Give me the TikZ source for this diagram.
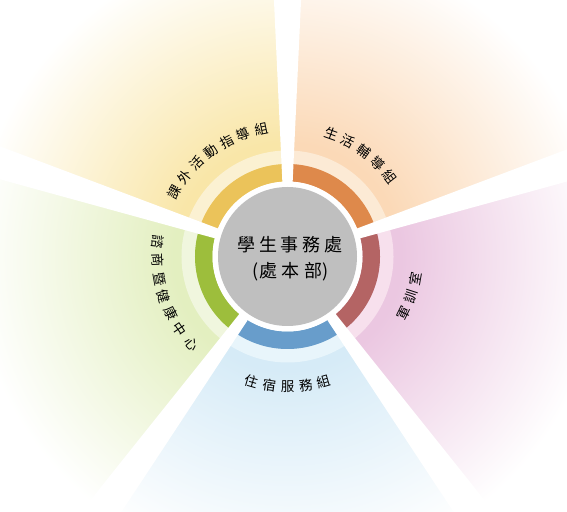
\documentclass[tikz,border=0pt]{standalone}
\usepackage{fontspec}
\newfontfamily\cjk{Noto Sans CJK TC}
\definecolor{centergray}{RGB}{191,191,191}
\definecolor{ringY}{RGB}{235,195,90}
\definecolor{ringO}{RGB}{222,137,75}
\definecolor{ringR}{RGB}{180,100,100}
\definecolor{ringB}{RGB}{104,157,203}
\definecolor{ringG}{RGB}{157,190,60}
\definecolor{haloY}{RGB}{251,241,210}
\definecolor{haloO}{RGB}{252,234,213}
\definecolor{haloR}{RGB}{247,224,237}
\definecolor{haloB}{RGB}{232,245,251}
\definecolor{haloG}{RGB}{240,246,222}
\definecolor{fanY}{RGB}{249,230,168}
\definecolor{fanO}{RGB}{251,217,183}
\definecolor{fanR}{RGB}{235,199,225}
\definecolor{fanB}{RGB}{214,235,247}
\definecolor{fanG}{RGB}{227,239,192}
\pgfdeclareradialshading{shY}{\pgfpoint{0bp}{0bp}}{color(0bp)=(fanY); color(9bp)=(fanY); color(25bp)=(white); color(50bp)=(white)}
\pgfdeclareradialshading{shO}{\pgfpoint{0bp}{0bp}}{color(0bp)=(fanO); color(9bp)=(fanO); color(25bp)=(white); color(50bp)=(white)}
\pgfdeclareradialshading{shR}{\pgfpoint{0bp}{0bp}}{color(0bp)=(fanR); color(9bp)=(fanR); color(25bp)=(white); color(50bp)=(white)}
\pgfdeclareradialshading{shB}{\pgfpoint{0bp}{0bp}}{color(0bp)=(fanB); color(9bp)=(fanB); color(25bp)=(white); color(50bp)=(white)}
\pgfdeclareradialshading{shG}{\pgfpoint{0bp}{0bp}}{color(0bp)=(fanG); color(9bp)=(fanG); color(25bp)=(white); color(50bp)=(white)}
% #1 start angle, #2 shading, #3 halo colour, #4 ring colour
\newcommand\fansector[4]{%
  \begin{scope}
    \clip (0,0) -- (#1:800) -- (#1+36:800) -- (#1+72:800) -- cycle;
    \shade[shading=#2] (0,0) circle (315);
  \end{scope}
  \fill[#3] (#1:106) arc[start angle=#1, delta angle=72, radius=106]
    -- (#1+72:92.5) arc[start angle=#1+72, delta angle=-72, radius=92.5] -- cycle;
  \fill[#4] (#1:92.5) arc[start angle=#1, delta angle=72, radius=92.5]
    -- (#1+72:75) arc[start angle=#1+72, delta angle=-72, radius=75] -- cycle;
}
\newcommand\spokegap[1]{%
  \begin{scope}[rotate=#1]
    \fill[white] (0,1.7) -- (800,38.7) -- (800,-38.7) -- (0,-1.7) -- cycle;
  \end{scope}
}
\begin{document}
\begin{tikzpicture}[x=1pt,y=1pt,
  lab/.style={font=\cjk\fontsize{13.5}{13.5}\selectfont, inner sep=0pt, text=black},
  ttl/.style={font=\cjk\fontsize{18}{18}\selectfont, inner sep=0pt, text=black}]
\useasboundingbox (0,0) rectangle (567,511);
\clip (0,0) rectangle (567,511);
\fill[white] (0,0) rectangle (567,511);
\begin{scope}[shift={(287.5,254.5)}]
  \fansector{90}{shY}{haloY}{ringY}
  \fansector{162}{shG}{haloG}{ringG}
  \fansector{234}{shB}{haloB}{ringB}
  \fansector{306}{shR}{haloR}{ringR}
  \fansector{18}{shO}{haloO}{ringO}
  \spokegap{90}
  \spokegap{162}
  \spokegap{234}
  \spokegap{306}
  \spokegap{18}
  \fill[white] (0,0) circle (75);
  \fill[centergray] (0,0) circle (69.5);
  \node[ttl] (t1) at (2.5,11.5) {學\kern4pt 生\kern4pt 事\kern4pt 務\kern4pt 處};
  \node[ttl] (t2) at (3.5,-15.5) {(\kern1pt 處\kern4pt 本\kern4pt 部\kern1pt )};
  % clockwise labels (tops outward)
  \foreach \ch [count=\i] in {課,外,活,動,指,導,組} {
    \pgfmathsetmacro\ang{126+3*8.1-(\i-1)*8.1}
    \node[lab, rotate=\ang-90] (ly\i) at (\ang:130) {\ch};
  }
  \foreach \ch [count=\i] in {生,活,輔,導,組} {
    \pgfmathsetmacro\ang{54+2*8.1-(\i-1)*8.1}
    \node[lab, rotate=\ang-90] (lo\i) at (\ang:130) {\ch};
  }
  % counter-clockwise labels (tops inward)
  \foreach \ch [count=\i] in {軍,訓,室} {
    \pgfmathsetmacro\ang{-18-1*8.1+(\i-1)*8.1}
    \node[lab, rotate=\ang+90] (lr\i) at (\ang:130) {\ch};
  }
  \foreach \ch [count=\i] in {住,宿,服,務,組} {
    \pgfmathsetmacro\ang{270-2*8.1+(\i-1)*8.1}
    \node[lab, rotate=\ang+90] (lb\i) at (\ang:130) {\ch};
  }
  \foreach \ch [count=\i] in {諮,商,暨,健,康,中,心} {
    \pgfmathsetmacro\ang{198-3*8.1+(\i-1)*8.1}
    \node[lab, rotate=\ang+90] (lg\i) at (\ang:130) {\ch};
  }
\end{scope}
\end{tikzpicture}
\end{document}
